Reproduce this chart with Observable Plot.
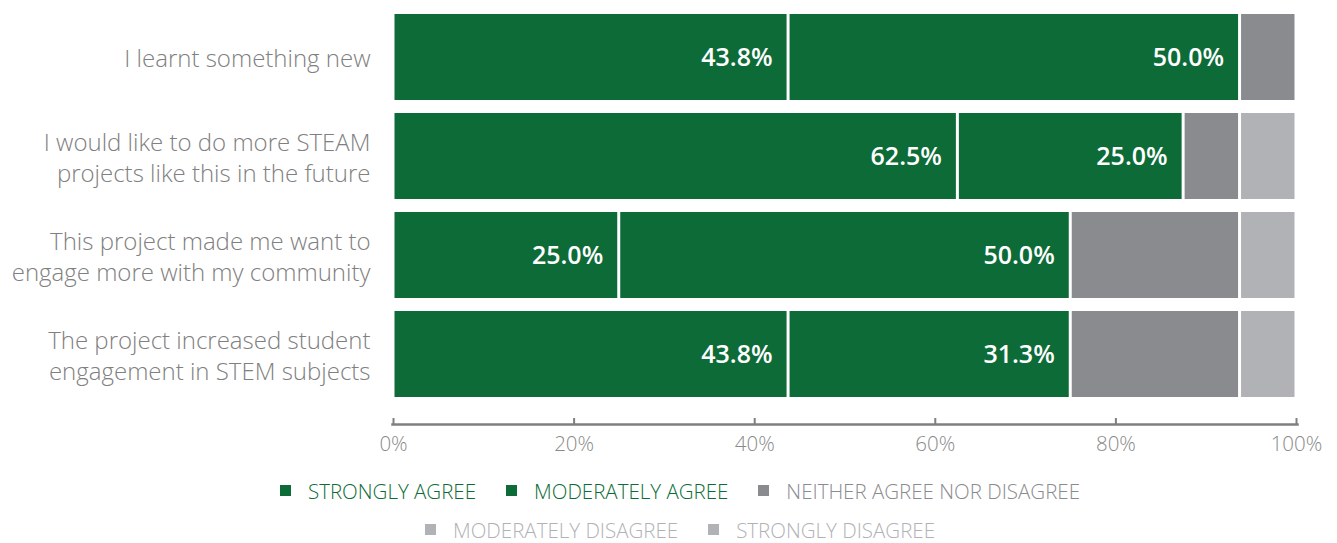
<!DOCTYPE html>
<html>
<head>
<meta charset="utf-8">
<script src="https://cdn.jsdelivr.net/npm/d3@7"></script>
<script src="https://cdn.jsdelivr.net/npm/@observablehq/plot@0.6"></script>
<style>
  html, body { margin: 0; padding: 0; background: #fff; }
  body { width: 1337px; font-family: "Open Sans", sans-serif; }
  .legend { width: 1337px; box-sizing: border-box; padding-left: 23px; padding-top: 6px; }
  .lrow { display: flex; justify-content: center; align-items: center; height: 39px; }
  .item { display: flex; align-items: center; margin: 0 15px; font-size: 20.5px; font-weight: 300; white-space: nowrap; }
  .sw { width: 11px; height: 11px; margin-right: 17px; flex: none; }
</style>
</head>
<body>
<div id="chart"></div>
<div class="legend" id="legend"></div>
<script>
const categories = [
  "I learnt something new",
  "I would like to do more STEAM\nprojects like this in the future",
  "This project made me want to\nengage more with my community",
  "The project increased student\nengagement in STEM subjects"
];
const responses = ["STRONGLY AGREE", "MODERATELY AGREE", "NEITHER AGREE NOR DISAGREE", "MODERATELY DISAGREE", "STRONGLY DISAGREE"];
const colors = ["#0d6b38", "#0d6b38", "#8a8b8f", "#b1b2b5", "#b1b2b5"];
const legendTextColors = ["#0d6b38", "#0d6b38", "#8a8b8f", "#b1b2b5", "#b1b2b5"];

const stronglyAgree      = [43.75, 62.5, 25.0, 43.75];
const moderatelyAgree    = [50.0, 25.0, 50.0, 31.25];
const neither            = [6.25, 6.25, 18.75, 18.75];
const moderatelyDisagree = [0, 6.25, 6.25, 6.25];
const stronglyDisagree   = [0, 0, 0, 0];
const xTicks = [0, 20, 40, 60, 80, 100];

const series = [stronglyAgree, moderatelyAgree, neither, moderatelyDisagree, stronglyDisagree];
const rows = [];
series.forEach((vals, ri) => vals.forEach((v, ci) => {
  rows.push({category: categories[ci], response: responses[ri], value: v, order: ri});
}));

const grey = "#808080";
const chart = Plot.plot({
  width: 1337,
  height: 465,
  marginLeft: 393,
  marginRight: 41,
  marginTop: 14,
  marginBottom: 41,
  style: {fontFamily: "'Open Sans', sans-serif", background: "#fff"},
  x: {domain: [0, 100], axis: null},
  y: {domain: categories, axis: null, paddingInner: 0.131, paddingOuter: 0, insetBottom: 26},
  color: {domain: responses, range: colors},
  marks: [
    Plot.barX(rows, Plot.stackX({
      x: "value", y: "category", fill: "response", order: "order",
      insetLeft: 1.5, insetRight: 1.5
    })),
    Plot.text(rows, Plot.stackX2({
      x: "value", y: "category", order: "order",
      filter: d => d.order < 2 && d.value > 0,
      text: d => d.value.toFixed(1) + "%",
      fill: "white", fontSize: 25, fontWeight: 600,
      textAnchor: "end", dx: -16
    })),
    Plot.text(categories, {
      x: () => 0, y: d => d, text: d => d,
      textAnchor: "end", dx: -23, fontSize: 24, fontWeight: 300,
      fill: grey, lineHeight: 1.3
    }),
    Plot.frame({anchor: "bottom", stroke: "#7f7f7f", strokeWidth: 2.5, insetLeft: -1, insetRight: -1}),
    Plot.ruleX(xTicks, {x: d => d, stroke: "#7f7f7f", strokeWidth: 2, insetTop: 404}),
    Plot.axisX(xTicks, {tickSize: 0, tickPadding: 12, tickFormat: d => d + "%", fontSize: 20.5, fontWeight: 300, color: "#8a8a8a", label: null})
  ]
});
document.getElementById("chart").appendChild(chart);

const legend = document.getElementById("legend");
[[0, 1, 2], [3, 4]].forEach(idx => {
  const row = document.createElement("div");
  row.className = "lrow";
  idx.forEach(i => {
    const it = document.createElement("div");
    it.className = "item";
    it.style.color = legendTextColors[i];
    const sw = document.createElement("span");
    sw.className = "sw";
    sw.style.background = colors[i];
    it.appendChild(sw);
    it.appendChild(document.createTextNode(responses[i]));
    row.appendChild(it);
  });
  legend.appendChild(row);
});
</script>
</body>
</html>
